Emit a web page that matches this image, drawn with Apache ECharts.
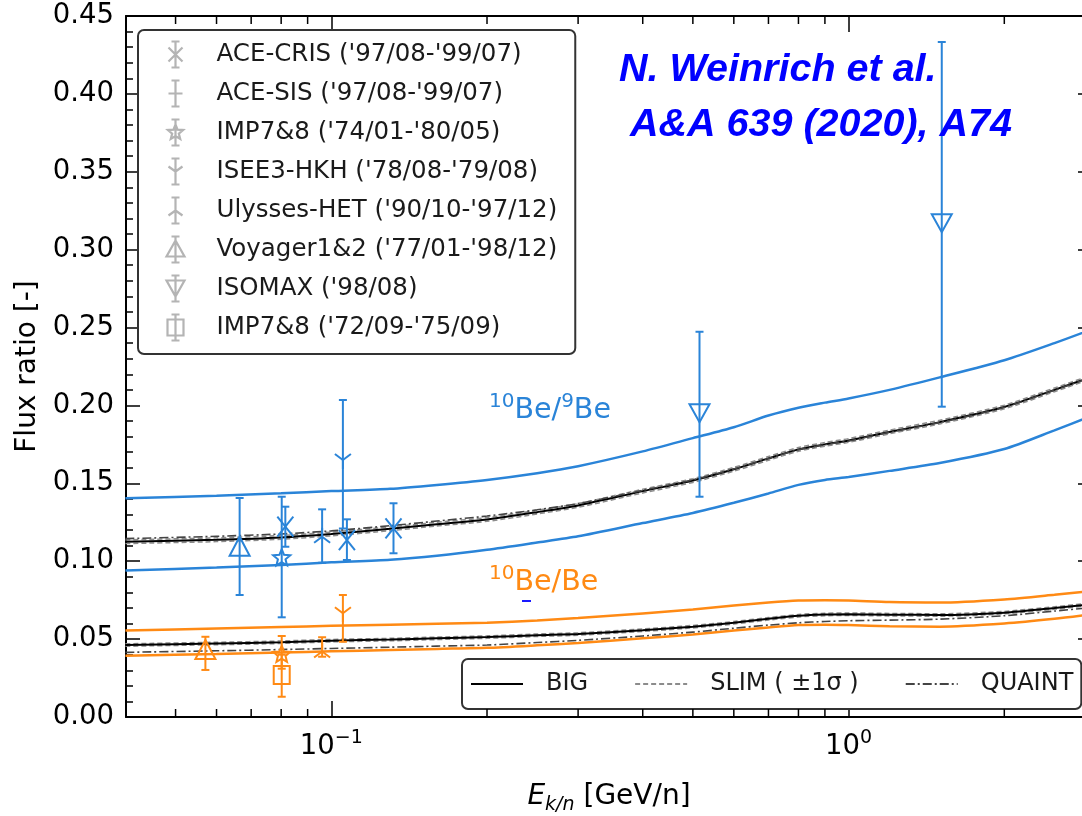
<!DOCTYPE html>
<html>
<head>
<meta charset="utf-8">
<script src="https://cdn.jsdelivr.net/npm/echarts/dist/echarts.min.js"></script>
<style>
  html, body { margin: 0; padding: 0; background: #fff; }
  #chart { width: 1082px; height: 816px; }
</style>
</head>
<body>
<div id="chart"></div>
<script>
// ---- palette & fonts ----
const BLUE = '#2a84d8';
const ORANGE = '#ff8a14';
const ICON_GREY = '#b4b4b4';
const FONT = 'DejaVu Sans';

// ---- axes ----
const X_MIN = 0.0401, X_MAX = 2.955;          // E_k/n [GeV/n], log scale
const Y_MIN = 0, Y_MAX = 0.45, Y_STEP = 0.05;  // flux ratio
const X_MINOR_TICKS = [0.05, 0.06, 0.07, 0.08, 0.09, 0.2, 0.3, 0.4, 0.5, 0.6, 0.7, 0.8, 0.9, 2];

// ---- model curves: energies ----
const E_MODEL = [0.04, 0.06, 0.08, 0.1, 0.13, 0.16, 0.2, 0.25, 0.3, 0.4, 0.5, 0.6, 0.7, 0.8, 0.9, 1.0, 1.2, 1.5, 2.0, 2.5, 2.96];

// 10Be/9Be
const BE9_BAND_HIGH = [0.1404, 0.1420, 0.1436, 0.1450, 0.1465, 0.1490, 0.1522, 0.1565, 0.1610, 0.1705, 0.1790, 0.1860, 0.1935, 0.1985, 0.2018, 0.2045, 0.2100, 0.2180, 0.2290, 0.2400, 0.2490];
const BE9_BAND_LOW  = [0.0940, 0.0960, 0.0976, 0.0993, 0.1010, 0.1035, 0.1073, 0.1120, 0.1160, 0.1245, 0.1310, 0.1375, 0.1435, 0.1490, 0.1522, 0.1540, 0.1580, 0.1630, 0.1720, 0.1840, 0.1935];
const BE9_BIG       = [0.1125, 0.1138, 0.1153, 0.1175, 0.1208, 0.1238, 0.1268, 0.1315, 0.1358, 0.1450, 0.1518, 0.1590, 0.1660, 0.1718, 0.1750, 0.1775, 0.1830, 0.1893, 0.1990, 0.2100, 0.2185];
const BE9_SLIM_UP   = [0.1137, 0.1150, 0.1165, 0.1187, 0.1220, 0.1250, 0.1280, 0.1327, 0.1370, 0.1462, 0.1530, 0.1602, 0.1672, 0.1730, 0.1762, 0.1787, 0.1842, 0.1905, 0.2002, 0.2112, 0.2197];
const BE9_SLIM_DN   = [0.1113, 0.1126, 0.1141, 0.1163, 0.1196, 0.1226, 0.1256, 0.1303, 0.1346, 0.1438, 0.1506, 0.1578, 0.1648, 0.1706, 0.1738, 0.1763, 0.1818, 0.1881, 0.1978, 0.2088, 0.2173];
const BE9_QUAINT    = [0.1145, 0.1160, 0.1175, 0.1195, 0.1228, 0.1258, 0.1290, 0.1330, 0.1370, 0.1455, 0.1522, 0.1592, 0.1660, 0.1716, 0.1748, 0.1772, 0.1828, 0.1890, 0.1988, 0.2098, 0.2183];

// 10Be/Be
const BE_BAND_HIGH  = [0.0556, 0.0568, 0.0578, 0.0585, 0.0592, 0.0598, 0.0605, 0.0620, 0.0635, 0.0665, 0.0690, 0.0715, 0.0735, 0.0748, 0.0750, 0.0748, 0.0738, 0.0735, 0.0755, 0.0785, 0.0810];
const BE_BAND_LOW   = [0.0393, 0.0405, 0.0414, 0.0422, 0.0430, 0.0437, 0.0444, 0.0460, 0.0475, 0.0505, 0.0530, 0.0555, 0.0575, 0.0590, 0.0592, 0.0590, 0.0583, 0.0580, 0.0600, 0.0630, 0.0660];
const BE_BIG        = [0.0462, 0.0472, 0.0480, 0.0490, 0.0497, 0.0505, 0.0513, 0.0525, 0.0533, 0.0557, 0.0580, 0.0605, 0.0630, 0.0650, 0.0658, 0.0660, 0.0657, 0.0655, 0.0670, 0.0700, 0.0725];
const BE_SLIM_UP    = [0.0470, 0.0480, 0.0488, 0.0498, 0.0505, 0.0513, 0.0521, 0.0533, 0.0541, 0.0565, 0.0588, 0.0613, 0.0638, 0.0658, 0.0666, 0.0668, 0.0665, 0.0663, 0.0678, 0.0708, 0.0733];
const BE_SLIM_DN    = [0.0454, 0.0464, 0.0472, 0.0482, 0.0489, 0.0497, 0.0505, 0.0517, 0.0525, 0.0549, 0.0572, 0.0597, 0.0622, 0.0642, 0.0650, 0.0652, 0.0649, 0.0647, 0.0662, 0.0692, 0.0717];
const BE_QUAINT     = [0.0415, 0.0425, 0.0433, 0.0440, 0.0448, 0.0455, 0.0462, 0.0478, 0.0492, 0.0520, 0.0545, 0.0570, 0.0590, 0.0605, 0.0613, 0.0618, 0.0622, 0.0628, 0.0650, 0.0680, 0.0703];

// ---- measurements: [E, ratio, lower end, upper end] ----
const ACE_CRIS_BE9 = [[0.0815, 0.1222, 0.1093, 0.1350], [0.1072, 0.1136, 0.1008, 0.1269], [0.1319, 0.1211, 0.1051, 0.1372]];
const ACE_CRIS_BE  = [];
const ACE_SIS_BE9  = [];
const ACE_SIS_BE   = [];
const IMP74_BE9    = [[0.0802, 0.1020, 0.0640, 0.1414]];
const IMP74_BE     = [[0.0802, 0.0400, 0.0310, 0.0520]];
const ISEE3_BE9    = [[0.1053, 0.1650, 0.1210, 0.2035]];
const ISEE3_BE     = [[0.1053, 0.0666, 0.0483, 0.0783]];
const ULYSSES_BE9  = [[0.0960, 0.1157, 0.0990, 0.1333]];
const ULYSSES_BE   = [[0.0960, 0.0420, 0.0387, 0.0512]];
const VOYAGER_BE9  = [[0.0665, 0.1093, 0.0783, 0.1406]];
const VOYAGER_BE   = [[0.0571, 0.0430, 0.0302, 0.0515]];
const ISOMAX_BE9   = [[0.515, 0.1950, 0.1414, 0.2473], [1.514, 0.3170, 0.1992, 0.4333]];
const ISOMAX_BE    = [];
const IMP72_BE9    = [];
const IMP72_BE     = [[0.0802, 0.0270, 0.0130, 0.0400]];

// experiment names, shown in the legend
const EXPERIMENTS = [
  "ACE-CRIS ('97/08-'99/07)",
  "ACE-SIS ('97/08-'99/07)",
  "IMP7&8 ('74/01-'80/05)",
  "ISEE3-HKH ('78/08-'79/08)",
  "Ulysses-HET ('90/10-'97/12)",
  "Voyager1&2 ('77/01-'98/12)",
  "ISOMAX ('98/08)",
  "IMP7&8 ('72/09-'75/09)"
];
const MODEL_NAMES = ['BIG', 'SLIM ( \u00b11\u03c3 )', 'QUAINT'];

// ---- marker drawing (pixel geometry around a data point) ----
function markerChildren(kind, cx, cy, color) {
  const st = { stroke: color, lineWidth: 2, fill: 'none' };
  const seg = (x1, y1, x2, y2) => ({ type: 'line', shape: { x1, y1, x2, y2 }, style: st });
  const poly = (pts) => ({ type: 'polygon', shape: { points: pts }, style: st });
  switch (kind) {
    case 'x':
      return [seg(cx - 8, cy - 10, cx + 8, cy + 10), seg(cx + 8, cy - 10, cx - 8, cy + 10)];
    case 'plus':
      return [seg(cx - 8, cy, cx + 8, cy)];
    case 'star': {
      const pts = [];
      for (let i = 0; i < 10; i++) {
        const r = i % 2 === 0 ? 9 : 4;
        const a = -Math.PI / 2 + i * Math.PI / 5;
        pts.push([cx + r * Math.cos(a), cy + r * Math.sin(a)]);
      }
      return [poly(pts)];
    }
    case 'triDownLines':
      return [seg(cx, cy, cx, cy + 9), seg(cx, cy, cx - 8, cy - 6), seg(cx, cy, cx + 8, cy - 6)];
    case 'triUpLines':
      return [seg(cx, cy, cx, cy - 9), seg(cx, cy, cx - 8, cy + 6), seg(cx, cy, cx + 8, cy + 6)];
    case 'triangleUp':
      return [poly([[cx, cy - 10], [cx - 10, cy + 9], [cx + 10, cy + 9]])];
    case 'triangleDown':
      return [poly([[cx - 10, cy - 9], [cx + 10, cy - 9], [cx, cy + 9]])];
    case 'square':
      return [{ type: 'rect', shape: { x: cx - 8, y: cy - 9, width: 16, height: 18 }, style: st }];
  }
  return [];
}

function errorBarSeries(name, marker, be9, be) {
  const data = be9.map(p => p.concat(0)).concat(be.map(p => p.concat(1)));
  return {
    name, type: 'custom', z: 10,
    encode: { x: 0, y: 1 },
    data,
    renderItem(params, api) {
      const e = api.value(0);
      const c = api.coord([e, api.value(1)]);
      const lo = api.coord([e, api.value(2)]);
      const hi = api.coord([e, api.value(3)]);
      const color = api.value(4) === 0 ? BLUE : ORANGE;
      const st = { stroke: color, lineWidth: 2 };
      const children = [
        { type: 'line', shape: { x1: c[0], y1: hi[1], x2: c[0], y2: lo[1] }, style: st },
        { type: 'line', shape: { x1: c[0] - 4, y1: hi[1], x2: c[0] + 4, y2: hi[1] }, style: st },
        { type: 'line', shape: { x1: c[0] - 4, y1: lo[1], x2: c[0] + 4, y2: lo[1] }, style: st }
      ].concat(markerChildren(marker, c[0], c[1], color));
      return { type: 'group', children };
    }
  };
}

function curve(name, ys, color, width, type, z) {
  return {
    name, type: 'line', z: z || 2,
    data: E_MODEL.map((e, i) => [e, ys[i]]),
    symbol: 'none', showSymbol: false, smooth: 0.25,
    lineStyle: { color, width, type: type || 'solid' },
    itemStyle: { color },
    silent: true
  };
}

// legend glyphs: error bar + marker in a 24x28 box (corner points fix the box)
const BOX = 'M0 0L0 0M24 28L24 28';
const BAR = 'M12 1L12 27M8 1L16 1M8 27L16 27';
const LEGEND_ICONS = [
  BOX + BAR + 'M5 7L19 21M19 7L5 21',
  BOX + BAR + 'M5 14L19 14',
  BOX + BAR + 'M12 6L14.06 11.17L19.61 11.53L15.33 15.08L16.7 20.47L12 17.5L7.3 20.47L8.67 15.08L4.39 11.53L9.94 11.17Z',
  BOX + BAR + 'M12 14L12 22M12 14L5 9M12 14L19 9',
  BOX + BAR + 'M12 14L12 6M12 14L5 19M12 14L19 19',
  BOX + BAR + 'M12 5L3 21L21 21Z',
  BOX + BAR + 'M3 6L21 6L12 22Z',
  BOX + BAR + 'M4 6L20 6L20 22L4 22Z'
];

const tickLine = { color: '#000', width: 1.5 };
const supRich = {
  b: { fontFamily: FONT, fontSize: 27.5, color: '#000', lineHeight: 36 },
  s: { fontFamily: FONT, fontSize: 19, color: '#000', lineHeight: 19, verticalAlign: 'top' }
};

function powerLabel(v) {
  const p = Math.log10(v);
  const r = Math.round(p);
  if (Math.abs(p - r) > 1e-6) return '';
  return '{b|10}{s|' + (r < 0 ? '\u2212' + (-r) : r) + '}';
}

const xAxisBase = {
  type: 'log', logBase: 10, min: X_MIN, max: X_MAX,
  axisLine: { onZero: false, lineStyle: { color: '#000', width: 2 } },
  axisTick: { inside: true, length: 16, lineStyle: tickLine },
  splitLine: { show: false }
};
const yAxisBase = {
  type: 'value', min: Y_MIN, max: Y_MAX, interval: Y_STEP,
  axisLine: { onZero: false, lineStyle: { color: '#000', width: 2 } },
  axisTick: { inside: true, length: 14, lineStyle: tickLine },
  minorTick: { show: true, splitNumber: 5, length: 7, lineStyle: tickLine },
  splitLine: { show: false }
};

const series = [];
// model bands and central curves
series.push(curve('10Be/9Be upper', BE9_BAND_HIGH, BLUE, 2.5));
series.push(curve('10Be/9Be lower', BE9_BAND_LOW, BLUE, 2.5));
series.push(curve('10Be/Be upper', BE_BAND_HIGH, ORANGE, 2.5));
series.push(curve('10Be/Be lower', BE_BAND_LOW, ORANGE, 2.5));
series.push(curve(MODEL_NAMES[1], BE9_SLIM_UP, '#8c8c8c', 1.5, [5, 3], 3));
series.push(curve(MODEL_NAMES[1], BE9_SLIM_DN, '#8c8c8c', 1.5, [5, 3], 3));
series.push(curve(MODEL_NAMES[1], BE_SLIM_UP, '#8c8c8c', 1.5, [5, 3], 3));
series.push(curve(MODEL_NAMES[1], BE_SLIM_DN, '#8c8c8c', 1.5, [5, 3], 3));
series.push(curve(MODEL_NAMES[0], BE9_BIG, '#000', 2, 'solid', 4));
series.push(curve(MODEL_NAMES[0], BE_BIG, '#000', 2, 'solid', 4));
series.push(curve(MODEL_NAMES[2], BE9_QUAINT, '#444', 1.6, [9, 3, 2, 3], 5));
series.push(curve(MODEL_NAMES[2], BE_QUAINT, '#444', 1.6, [9, 3, 2, 3], 5));

// measurements
series.push(errorBarSeries(EXPERIMENTS[0], 'x', ACE_CRIS_BE9, ACE_CRIS_BE));
series.push(errorBarSeries(EXPERIMENTS[1], 'plus', ACE_SIS_BE9, ACE_SIS_BE));
series.push(errorBarSeries(EXPERIMENTS[2], 'star', IMP74_BE9, IMP74_BE));
series.push(errorBarSeries(EXPERIMENTS[3], 'triDownLines', ISEE3_BE9, ISEE3_BE));
series.push(errorBarSeries(EXPERIMENTS[4], 'triUpLines', ULYSSES_BE9, ULYSSES_BE));
series.push(errorBarSeries(EXPERIMENTS[5], 'triangleUp', VOYAGER_BE9, VOYAGER_BE));
series.push(errorBarSeries(EXPERIMENTS[6], 'triangleDown', ISOMAX_BE9, ISOMAX_BE));
series.push(errorBarSeries(EXPERIMENTS[7], 'square', IMP72_BE9, IMP72_BE));

// minor ticks of the log axis, bottom and top edges
series.push({
  name: 'x minor ticks', type: 'custom', silent: true, z: 20,
  encode: { x: 0, y: 1 },
  data: X_MINOR_TICKS.map(e => [e, Y_MIN]),
  renderItem(params, api) {
    const b = api.coord([api.value(0), Y_MIN]);
    const t = api.coord([api.value(0), Y_MAX]);
    const st = { stroke: '#000', lineWidth: 1.5 };
    return { type: 'group', children: [
      { type: 'line', shape: { x1: b[0], y1: b[1], x2: b[0], y2: b[1] - 8 }, style: st },
      { type: 'line', shape: { x1: t[0], y1: t[1], x2: t[0], y2: t[1] + 8 }, style: st }
    ] };
  }
});

const option = {
  animation: false,
  backgroundColor: '#fff',
  grid: { left: 126, top: 16, right: -10, bottom: 99, containLabel: false, outerBoundsMode: 'none' },
  xAxis: [
    Object.assign({}, xAxisBase, {
      position: 'bottom',
      axisLabel: { margin: 12, formatter: powerLabel, rich: supRich, showMinLabel: false, showMaxLabel: false },
      name: '{e|E}{k|k/n}{t| [GeV/n]}',
      nameLocation: 'middle', nameGap: 62,
      nameTextStyle: { rich: {
        e: { fontFamily: FONT, fontSize: 28, fontStyle: 'italic', color: '#000', lineHeight: 36 },
        k: { fontFamily: FONT, fontSize: 19, fontStyle: 'italic', color: '#000', lineHeight: 19, verticalAlign: 'bottom' },
        t: { fontFamily: FONT, fontSize: 28, color: '#000', lineHeight: 36 }
      } }
    }),
    Object.assign({}, xAxisBase, { position: 'top', axisLabel: { show: false } })
  ],
  yAxis: [
    Object.assign({}, yAxisBase, {
      position: 'left',
      axisLabel: { margin: 12, fontFamily: FONT, fontSize: 27.5, color: '#000', formatter: v => v.toFixed(2) },
      name: 'Flux ratio [-]', nameLocation: 'middle', nameGap: 82, nameRotate: 90,
      nameTextStyle: { fontFamily: FONT, fontSize: 28, color: '#000' }
    }),
    Object.assign({}, yAxisBase, { position: 'right', axisLabel: { show: false } })
  ],
  legend: [
    {
      data: EXPERIMENTS.map((n, i) => ({ name: n, icon: 'path://' + LEGEND_ICONS[i] })),
      orient: 'vertical', left: 138, top: 30,
      padding: [8, 18, 10, 23],
      itemWidth: 24, itemHeight: 28, itemGap: 6,
      selectedMode: false,
      backgroundColor: '#fff', borderColor: '#333', borderWidth: 2, borderRadius: 6,
      itemStyle: { color: 'none', borderColor: ICON_GREY, borderWidth: 2.2 },
      textStyle: { fontFamily: FONT, fontSize: 24.5, color: '#1a1a1a', padding: [0, 0, 0, 24] }
    },
    {
      data: MODEL_NAMES,
      orient: 'horizontal', left: 462, top: 659,
      padding: [13, 8, 13, 8],
      itemWidth: 52, itemHeight: 26, itemGap: 46,
      selectedMode: false,
      backgroundColor: '#fff', borderColor: '#333', borderWidth: 2, borderRadius: 6,
      itemStyle: { opacity: 0 },
      textStyle: { fontFamily: FONT, fontSize: 24, color: '#1a1a1a', padding: [0, 0, 0, 18] }
    }
  ],
  graphic: [
    {
      type: 'text', x: 489, y: 411, z: 50,
      style: {
        text: '{s|10}{b|Be/}{s|9}{b|Be}', verticalAlign: 'middle', textVerticalAlign: 'middle',
        rich: {
          b: { fontFamily: FONT, fontSize: 28.5, fill: BLUE, lineHeight: 38 },
          s: { fontFamily: FONT, fontSize: 20, fill: BLUE, lineHeight: 20, verticalAlign: 'top' }
        }
      }
    },
    {
      type: 'text', x: 489, y: 583, z: 50,
      style: {
        text: '{s|10}{b|Be/Be}', verticalAlign: 'middle', textVerticalAlign: 'middle',
        rich: {
          b: { fontFamily: FONT, fontSize: 28.5, fill: ORANGE, lineHeight: 38 },
          s: { fontFamily: FONT, fontSize: 20, fill: ORANGE, lineHeight: 20, verticalAlign: 'top' }
        }
      }
    },
    { type: 'rect', shape: { x: 522, y: 600, width: 9, height: 2 }, style: { fill: '#1a1aff' }, z: 50 },
    {
      type: 'text', x: 619, y: 70, z: 50,
      style: { text: 'N. Weinrich et al.', fill: '#0000ff', verticalAlign: 'middle', textVerticalAlign: 'middle',
               font: 'italic bold 39.5px "Liberation Sans"' }
    },
    {
      type: 'text', x: 630, y: 125, z: 50,
      style: { text: 'A&A 639 (2020), A74', fill: '#0000ff', verticalAlign: 'middle', textVerticalAlign: 'middle',
               font: 'italic bold 39.5px "Liberation Sans"' }
    }
  ],
  series
};

const chart = echarts.init(document.getElementById('chart'), null, { renderer: 'canvas' });
chart.setOption(option);
</script>
</body>
</html>
